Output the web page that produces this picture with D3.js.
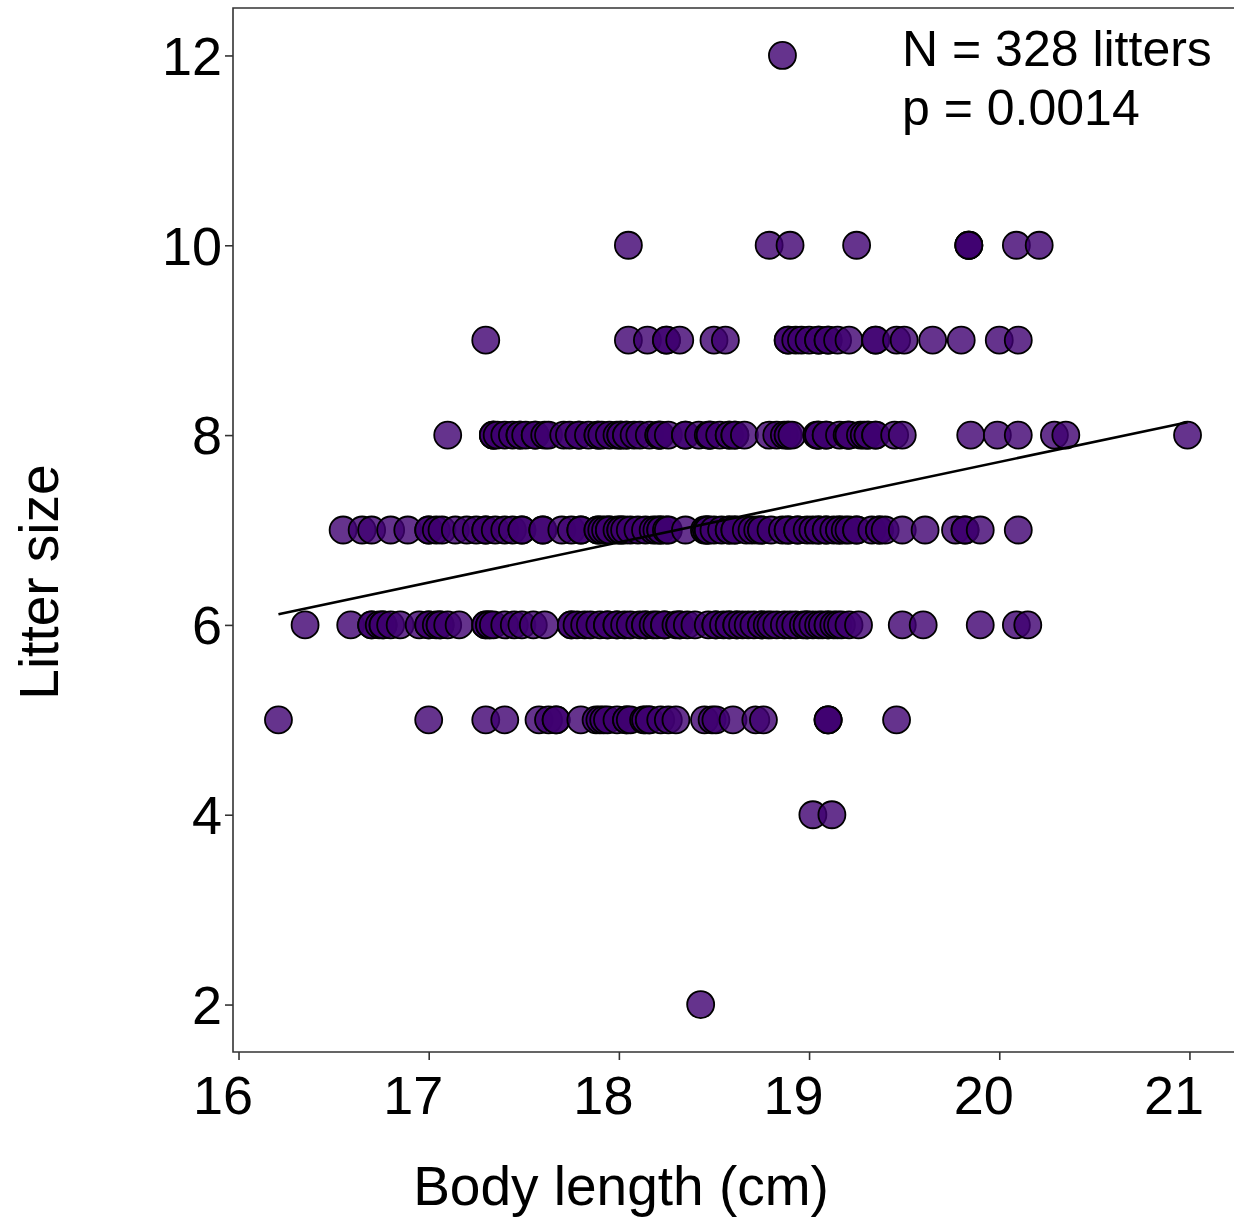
<!DOCTYPE html>
<html>
<head>
<meta charset="utf-8">
<script src="https://cdn.jsdelivr.net/npm/d3@7"></script>
<style>
  html, body { margin: 0; padding: 0; background: #fff; }
  svg { display: block; }
  text { font-family: "Liberation Sans", Arial, Helvetica, sans-serif; fill: #000; }
</style>
</head>
<body>
<svg id="chart" width="1234" height="1221"></svg>
<script>
// Body length (cm) of the mother for each litter, grouped by litter size
const litterSizes = [12, 10, 9, 8, 7, 6, 5, 4, 2];

const size12 = [18.86];
const size10 = [18.05, 18.79, 18.90, 19.25, 19.84, 19.84, 19.84, 20.09, 20.21];
const size9 = [17.30, 18.05, 18.15, 18.25, 18.25, 18.32, 18.50, 18.56, 18.89, 18.89,
  18.93, 18.96, 19.00, 19.05, 19.05, 19.10, 19.10, 19.15, 19.21, 19.35, 19.35, 19.46,
  19.50, 19.65, 19.80, 20.00, 20.10];
const size8 = [17.10, 17.34, 17.34, 17.34, 17.36, 17.40, 17.44, 17.48, 17.48, 17.51,
  17.56, 17.56, 17.61, 17.63, 17.71, 17.74, 17.79, 17.79, 17.84, 17.89, 17.89, 17.91,
  17.95, 17.99, 18.01, 18.01, 18.04, 18.04, 18.08, 18.11, 18.16, 18.21, 18.21, 18.22,
  18.26, 18.35, 18.35, 18.42, 18.47, 18.48, 18.48, 18.53, 18.58, 18.58, 18.61, 18.61,
  18.66, 18.79, 18.83, 18.87, 18.89, 18.89, 18.91, 19.04, 19.05, 19.05, 19.09, 19.09,
  19.16, 19.20, 19.21, 19.21, 19.27, 19.29, 19.31, 19.31, 19.35, 19.35, 19.45, 19.49,
  19.85, 19.99, 20.10, 20.29, 20.35, 20.99];
const size7 = [16.55, 16.65, 16.70, 16.80, 16.89, 17.00, 17.00, 17.04, 17.07, 17.14,
  17.20, 17.25, 17.30, 17.30, 17.35, 17.40, 17.44, 17.49, 17.49, 17.60, 17.60, 17.70,
  17.75, 17.80, 17.80, 17.89, 17.89, 17.91, 17.93, 17.95, 17.95, 17.99, 18.01, 18.01,
  18.03, 18.06, 18.10, 18.14, 18.18, 18.20, 18.22, 18.22, 18.25, 18.26, 18.35, 18.45,
  18.46, 18.47, 18.47, 18.50, 18.54, 18.58, 18.58, 18.61, 18.61, 18.67, 18.70, 18.73,
  18.75, 18.75, 18.80, 18.86, 18.89, 18.89, 18.94, 18.94, 18.99, 19.02, 19.05, 19.05,
  19.09, 19.09, 19.13, 19.16, 19.16, 19.19, 19.21, 19.25, 19.25, 19.33, 19.37, 19.37,
  19.40, 19.49, 19.61, 19.77, 19.82, 19.82, 19.90, 20.10];
const size6 = [16.35, 16.59, 16.70, 16.70, 16.74, 16.76, 16.76, 16.80, 16.85, 16.95,
  17.00, 17.00, 17.04, 17.06, 17.06, 17.10, 17.16, 17.30, 17.30, 17.32, 17.32, 17.34,
  17.40, 17.45, 17.49, 17.55, 17.61, 17.75, 17.75, 17.78, 17.82, 17.85, 17.90, 17.94,
  17.94, 17.99, 17.99, 18.03, 18.06, 18.11, 18.14, 18.14, 18.18, 18.20, 18.24, 18.24,
  18.30, 18.32, 18.32, 18.36, 18.40, 18.47, 18.51, 18.51, 18.55, 18.58, 18.58, 18.62,
  18.62, 18.65, 18.68, 18.71, 18.75, 18.75, 18.78, 18.80, 18.83, 18.87, 18.90, 18.93,
  18.97, 18.99, 18.99, 19.02, 19.05, 19.07, 19.10, 19.10, 19.13, 19.15, 19.17, 19.21,
  19.26, 19.49, 19.60, 19.90, 20.09, 20.15];
const size5 = [16.21, 17.00, 17.30, 17.40, 17.58, 17.63, 17.67, 17.67, 17.80, 17.88,
  17.90, 17.92, 17.94, 17.99, 18.04, 18.04, 18.06, 18.13, 18.14, 18.16, 18.16, 18.22,
  18.26, 18.30, 18.45, 18.49, 18.51, 18.60, 18.72, 18.76, 19.10, 19.10, 19.10, 19.46];
const size4 = [19.02, 19.12];
const size2 = [18.43];

const lengthsBySize = [size12, size10, size9, size8, size7, size6, size5, size4, size2];

// Fitted linear trend: litter size = intercept + slope * body length
const fitIntercept = -0.753;
const fitSlope = 0.4235;

const xTicks = [16, 17, 18, 19, 20, 21];
const yTicks = [2, 4, 6, 8, 10, 12];
const annotation = ["N = 328 litters", "p = 0.0014"];

// Flatten into one row per litter
const litters = [];
litterSizes.forEach((s, i) => {
  lengthsBySize[i].forEach(len => litters.push({ length: len, size: s }));
});

const svg = d3.select("#chart");
const plot = { left: 233, right: 1233, top: 8, bottom: 1052 };

// Scales padded by 5% of the data range on each side
const xMin = d3.min(litters, d => d.length);
const xMax = d3.max(litters, d => d.length);
const xPad = (xMax - xMin) * 0.05;
const x = d3.scaleLinear()
  .domain([xMin - xPad, xMax + xPad])
  .range([plot.left, plot.right]);

const yMin = d3.min(litters, d => d.size);
const yMax = d3.max(litters, d => d.size);
const yPad = (yMax - yMin) * 0.05;
const y = d3.scaleLinear()
  .domain([yMin - yPad, yMax + yPad])
  .range([plot.bottom, plot.top]);

// Panel frame (top, left and bottom edges; right edge runs off the canvas)
svg.append("path")
  .attr("d", `M${plot.right + 20},${plot.top}H${plot.left}V${plot.bottom}H${plot.right + 20}`)
  .attr("fill", "none")
  .attr("stroke", "#333")
  .attr("stroke-width", 1.6);

// Axes
const xAxis = svg.append("g")
  .attr("transform", `translate(0,${plot.bottom})`)
  .call(d3.axisBottom(x).tickValues(xTicks).tickSize(8).tickSizeOuter(0).tickFormat(d3.format("d")));
xAxis.select(".domain").remove();
xAxis.selectAll(".tick line").attr("stroke", "#333").attr("stroke-width", 1.6);
xAxis.selectAll(".tick text")
  .attr("y", 62)
  .attr("dy", 0)
  .attr("dx", -16)
  .style("font-size", "54px")
  .style("font-family", "'Liberation Sans', Arial, sans-serif")
  .attr("fill", "#000");

const yAxis = svg.append("g")
  .attr("transform", `translate(${plot.left},0)`)
  .call(d3.axisLeft(y).tickValues(yTicks).tickSize(8).tickSizeOuter(0).tickFormat(d3.format("d")));
yAxis.select(".domain").remove();
yAxis.selectAll(".tick line").attr("stroke", "#333").attr("stroke-width", 1.6);
yAxis.selectAll(".tick text")
  .attr("x", -11)
  .attr("dy", "0.35em")
  .style("font-size", "54px")
  .style("font-family", "'Liberation Sans', Arial, sans-serif")
  .attr("fill", "#000");

// Points
svg.append("g")
  .selectAll("circle")
  .data(litters)
  .join("circle")
  .attr("cx", d => x(d.length))
  .attr("cy", d => y(d.size))
  .attr("r", 13.5)
  .attr("fill", "#3f0070")
  .attr("fill-opacity", 0.8)
  .attr("stroke", "#000")
  .attr("stroke-width", 1.8);

// Regression line across the observed length range
const fitLine = [xMin, xMax].map(v => [x(v), y(fitIntercept + fitSlope * v)]);
svg.append("path")
  .attr("d", d3.line()(fitLine))
  .attr("fill", "none")
  .attr("stroke", "#000")
  .attr("stroke-width", 2.6);

// Sample size and significance note
svg.append("g")
  .selectAll("text")
  .data(annotation)
  .join("text")
  .attr("x", 902)
  .attr("y", (d, i) => 66 + i * 59)
  .style("font-size", "50px")
  .text(d => d);

// Axis titles
svg.append("text")
  .attr("x", 621)
  .attr("y", 1205)
  .attr("text-anchor", "middle")
  .style("font-size", "55px")
  .text("Body length (cm)");

svg.append("text")
  .attr("transform", "translate(58,582) rotate(-90)")
  .attr("text-anchor", "middle")
  .style("font-size", "55px")
  .text("Litter size");
</script>
</body>
</html>
